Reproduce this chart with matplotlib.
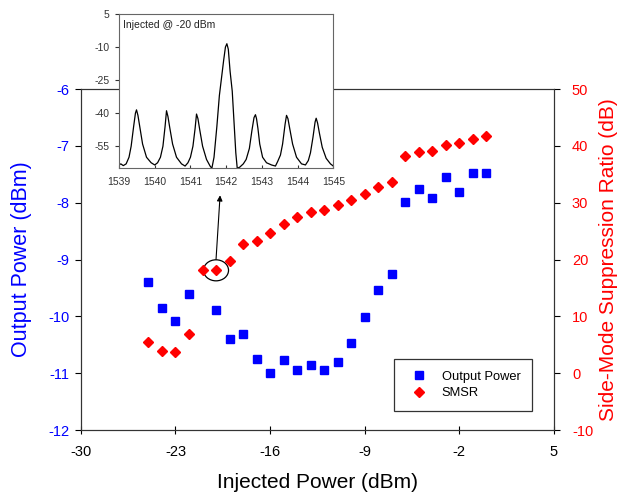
import matplotlib
matplotlib.use('Agg')
from matplotlib import pyplot as plt
from matplotlib.patches import Ellipse

plt.rcParams['font.family'] = ['Liberation Sans', 'DejaVu Sans']
plt.rcParams['axes.unicode_minus'] = False

# injected power (dBm)
inj_power = [-25, -24, -23, -22, -21, -20, -19, -18, -17, -16, -15, -14, -13,
             -12, -11, -10, -9, -8, -7, -6, -5, -4, -3, -2, -1, 0]

# output power, no point read at -21 dBm
out_x = [-25, -24, -23, -22, -20, -19, -18, -17, -16, -15, -14, -13,
         -12, -11, -10, -9, -8, -7, -6, -5, -4, -3, -2, -1, 0]
out_power = [-9.39, -9.86, -10.09, -9.60, -9.88, -10.39, -10.31, -10.75, -11.00,
             -10.76, -10.94, -10.85, -10.94, -10.81, -10.47, -10.02, -9.54, -9.26,
             -7.98, -7.76, -7.91, -7.55, -7.81, -7.48, -7.48]

smsr = [5.4, 3.9, 3.8, 6.9, 18.1, 18.1, 19.7, 22.8, 23.2, 24.7, 26.2, 27.5, 28.4,
        28.7, 29.6, 30.5, 31.5, 32.8, 33.6, 38.3, 38.9, 39.1, 40.1, 40.5, 41.2, 41.8]

# optical spectrum at -20 dBm injection
wl = [1539.0, 1539.05, 1539.12, 1539.2, 1539.28, 1539.34, 1539.41, 1539.46, 1539.49,
      1539.53, 1539.58, 1539.66, 1539.77, 1539.9, 1540.0,
      1540.08, 1540.16, 1540.23, 1540.29, 1540.33, 1540.37, 1540.42, 1540.5,
      1540.61, 1540.75, 1540.85,
      1540.93, 1541.0, 1541.07, 1541.13, 1541.17, 1541.21, 1541.26, 1541.34,
      1541.45, 1541.55, 1541.6,
      1541.66, 1541.74, 1541.81, 1541.87, 1541.93, 1541.98, 1542.02, 1542.06,
      1542.11, 1542.17, 1542.22, 1542.27, 1542.31,
      1542.38, 1542.48, 1542.56, 1542.65, 1542.72, 1542.78, 1542.82, 1542.85,
      1542.89, 1542.94, 1543.02, 1543.13, 1543.27, 1543.38,
      1543.44, 1543.52, 1543.58, 1543.65, 1543.69, 1543.73, 1543.78, 1543.86,
      1543.97, 1544.11, 1544.22,
      1544.3, 1544.36, 1544.43, 1544.49, 1544.52, 1544.56, 1544.61, 1544.69,
      1544.8, 1544.92, 1545.0]
spec = [-63.5, -63.0, -63.8, -63.0, -60.0, -55.0, -46.0, -40.0, -38.5,
        -41.0, -46.0, -54.0, -60.0, -62.5, -63.5,
        -62.5, -60.0, -55.0, -46.0, -38.9, -41.5, -46.5, -54.0,
        -60.0, -63.0, -64.0,
        -62.5, -60.0, -55.0, -47.0, -40.4, -42.5, -47.5, -55.0,
        -61.0, -64.0, -65.0,
        -60.0, -46.0, -32.0, -24.0, -16.0, -10.0, -8.5, -11.0,
        -21.0, -30.0, -44.0, -58.0, -65.0,
        -64.5, -63.0, -61.0, -56.0, -48.0, -42.0, -40.7, -42.5,
        -47.0, -54.0, -60.0, -62.5, -63.5, -64.0,
        -62.0, -59.0, -54.0, -45.0, -41.0, -42.5, -47.0, -54.0,
        -60.0, -63.0, -63.5,
        -61.5, -58.0, -51.0, -44.0, -42.3, -44.5, -49.0, -55.5,
        -60.5, -63.0, -64.0]

blue = '#0000ff'
red = '#ff0000'

fig = plt.figure(figsize=(6.27, 4.92), dpi=100)
ax = fig.add_axes((0.129, 0.126, 0.7544, 0.693))
ax2 = ax.twinx()

p1, = ax.plot(out_x, out_power, 's', color=blue, ms=5.5, mec=blue, label='Output Power')
p2, = ax2.plot(inj_power, smsr, 'D', color=red, ms=5.3, mec=red, label='SMSR')

ax.set_xlim(-30, 5)
ax.set_ylim(-12, -6)
ax2.set_ylim(-10, 50)
ax.set_xticks([-30, -23, -16, -9, -2, 5])
ax.set_yticks([-12, -11, -10, -9, -8, -7, -6])
ax2.set_yticks([-10, 0, 10, 20, 30, 40, 50])

ax.tick_params(axis='x', direction='inout', length=6, labelsize=10.5, pad=8)
ax.tick_params(axis='y', direction='out', length=4, labelsize=10.5, pad=4, labelcolor=blue)
ax2.tick_params(axis='y', direction='out', length=4, labelsize=10.5, pad=9, labelcolor=red)
for a in (ax, ax2):
    for s in a.spines.values():
        s.set_color('#333333')

ax.set_xlabel('Injected Power (dBm)', fontsize=15, labelpad=10)
ax.set_ylabel('Output Power (dBm)', fontsize=15.5, color=blue, labelpad=12)
ax2.set_ylabel('Side-Mode Suppression Ratio (dB)', fontsize=15, color=red, labelpad=4)

# mark the -20 dBm point and point at the spectrum
ax2.add_patch(Ellipse((-20, 18.1), 1.85, 3.7, fill=False, ec='black', lw=0.9))
ax2.annotate('', xy=(-19.7, 31.3), xytext=(-20.0, 20.0),
             arrowprops=dict(arrowstyle='-|>', color='black', lw=0.8, mutation_scale=8,
                             shrinkA=0, shrinkB=0))

ax2.legend(handles=[p1, p2], loc='lower right', bbox_to_anchor=(0.954, 0.056),
           borderaxespad=0, fontsize=9.3, frameon=True, fancybox=False, edgecolor='black',
           borderpad=0.9, handletextpad=0.77, labelspacing=0.34, handlelength=2.0)
ax2.get_legend().get_frame().set_linewidth(0.9)

# inset spectrum
axin = fig.add_axes((0.1898, 0.658, 0.3418, 0.3136), zorder=5)
axin.set_facecolor('white')
axin.plot(wl, spec, color='black', lw=0.9)
axin.set_xlim(1539, 1545)
axin.set_ylim(-65, 5)
axin.set_xticks([1539, 1540, 1541, 1542, 1543, 1544, 1545])
axin.set_yticks([5, -10, -25, -40, -55])
axin.tick_params(axis='x', direction='in', length=2, labelsize=7.5, pad=6, colors='#333333')
axin.tick_params(axis='y', direction='out', length=3, labelsize=7.5, pad=4, colors='#333333')
for s in axin.spines.values():
    s.set_color('#666666')
    s.set_linewidth(0.8)
axin.text(0.02, 0.93, 'Injected @ -20 dBm', transform=axin.transAxes,
          fontsize=7.5, va='center', ha='left', color='#222222')

fig.savefig('out.png', dpi=100)
